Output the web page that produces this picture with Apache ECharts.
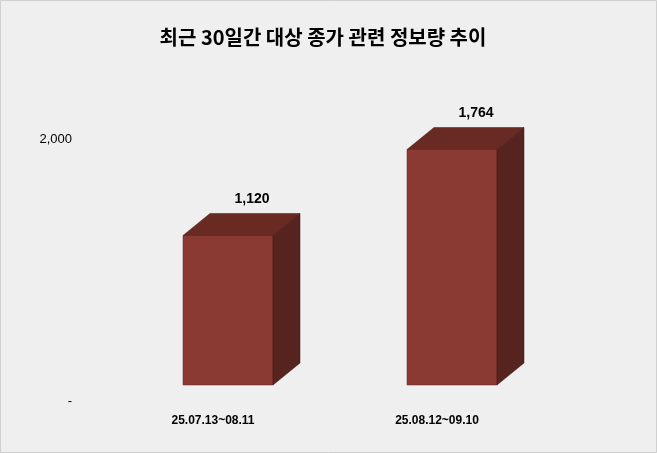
<!DOCTYPE html>
<html><head><meta charset="utf-8">
<script src="https://cdn.jsdelivr.net/npm/echarts@6/dist/echarts.min.js"></script>
<style>html,body{margin:0;padding:0;background:#fff}#c{width:657px;height:453px}</style>
</head><body><div id="c"></div>
<script>
var categories = ['25.07.13~08.11', '25.08.12~09.10'];
var values = [1120, 1764];
var yTicks = [0, 2000];

var chart = echarts.init(document.getElementById('c'));
var dx = 27, dy = 22, barW = 90;

function renderBar(params, api) {
	var idx = api.value(0);
	var val = api.value(1);
	var top = api.coord([idx, val]);
	var bot = api.coord([idx, 0]);
	var x0 = top[0] - barW / 2, x1 = top[0] + barW / 2;
	return {
		type: 'group',
		children: [
			{ type: 'rect', shape: { x: x0, y: top[1], width: barW, height: bot[1] - top[1] },
			  style: { fill: '#8a3a32', stroke: '#5a2520', lineWidth: 0.5 } },
			{ type: 'polygon', shape: { points: [[x0, top[1]], [x0 + dx, top[1] - dy], [x1 + dx, top[1] - dy], [x1, top[1]]] },
			  style: { fill: '#6a2a24', stroke: '#4a1c18', lineWidth: 0.5 } },
			{ type: 'polygon', shape: { points: [[x1, top[1]], [x1 + dx, top[1] - dy], [x1 + dx, bot[1] - dy], [x1, bot[1]]] },
			  style: { fill: '#56231f', stroke: '#3e1815', lineWidth: 0.5 } },
			{ type: 'text', style: { x: top[0] + 24, y: top[1] - 36, text: echarts.format.addCommas(val),
			  align: 'center', verticalAlign: 'middle', font: 'bold 14px "Liberation Sans", Arial', fill: '#000' } }
		]
	};
}

chart.setOption({
	backgroundColor: '#efefef',
	title: {
		text: '최근 30일간 대상 종가 관련 정보량 추이',
		left: 318, top: 22, textAlign: 'center',
		textStyle: { fontFamily: '"Noto Sans CJK KR"', fontSize: 20, fontWeight: 'bold', color: '#000' }
	},
	grid: [
		{ left: 116, right: 93, top: 118, bottom: 68 },
		{ left: 116, right: 93, top: 139, bottom: 52 }
	],
	xAxis: [
		{ type: 'category', data: categories, gridIndex: 0,
		  axisLine: { show: false }, axisTick: { show: false },
		  axisLabel: { margin: 30, padding: [0, 30, 0, 0], fontSize: 12, fontWeight: 'bold', color: '#000', fontFamily: '"Liberation Sans", Arial' } },
		{ type: 'category', data: categories, gridIndex: 1, show: false }
	],
	yAxis: [
		{ type: 'value', min: 0, max: 2000, gridIndex: 0, show: false },
		{ type: 'value', min: yTicks[0], max: yTicks[1], interval: 2000, gridIndex: 1,
		  axisLine: { show: false }, axisTick: { show: false }, splitLine: { show: false },
		  axisLabel: { margin: 44, fontSize: 13, color: '#000', fontFamily: '"Liberation Sans", Arial',
		    formatter: function (v) { return v === 0 ? '-' : echarts.format.addCommas(v); } } }
	],
	graphic: [{ type: 'rect', shape: { x: 0.5, y: 0.5, width: 656, height: 452 }, style: { fill: 'none', stroke: '#d0d0d0' } }],
	series: [{
		type: 'custom', xAxisIndex: 0, yAxisIndex: 0,
		renderItem: renderBar,
		data: values.map(function (v, i) { return [i, v]; })
	}]
});
</script></body></html>
